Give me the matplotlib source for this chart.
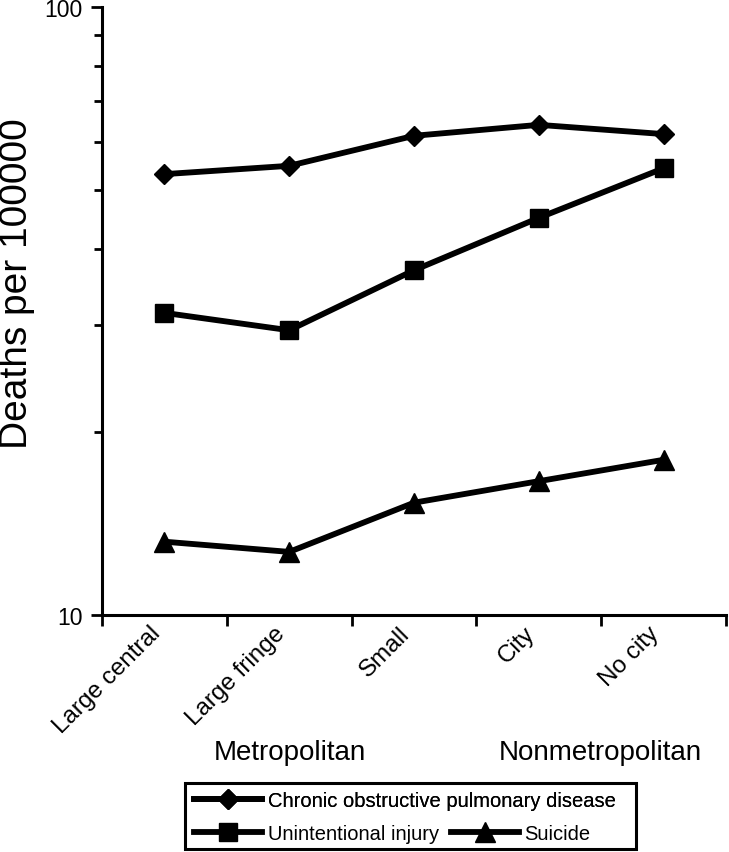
import matplotlib
matplotlib.use('Agg')
import matplotlib.pyplot as plt
from matplotlib.ticker import FixedLocator, NullFormatter, FixedFormatter
from matplotlib.patches import Rectangle

categories = ["Large central", "Large fringe", "Small", "City", "No city"]
copd = [53.1, 54.8, 61.4, 64.0, 61.8]
injury = [31.4, 29.4, 36.9, 45.0, 54.3]
suicide = [13.2, 12.7, 15.3, 16.6, 18.0]
series_names = ["Chronic obstructive pulmonary disease", "Unintentional injury", "Suicide"]
group_labels = ["Metropolitan", "Nonmetropolitan"]
ytick_vals = [10, 100]
ytick_labels = ["10", "100"]
y_label = "Deaths per 100000"

plt.rcParams['font.family'] = ['Liberation Sans', 'DejaVu Sans']

W, H = 729, 853
fig = plt.figure(figsize=(W / 100, H / 100), dpi=100)
ax = fig.add_axes([102 / W, 1 - 616 / H, 624 / W, 608 / H])

x = list(range(len(categories)))
style = dict(color='black', lw=4.2, clip_on=False, solid_joinstyle='miter')
h1, = ax.plot(x, copd, marker='D', ms=10, label=series_names[0], **style)
h2, = ax.plot(x, injury, marker='s', ms=12.5, label=series_names[1], **style)
h3, = ax.plot(x, suicide, marker='^', ms=14.5, label=series_names[2], **style)

ax.set_yscale('log')
ax.set_ylim(10, 100)
ax.set_xlim(-0.5, len(categories) - 0.5)
ax.yaxis.set_major_locator(FixedLocator(ytick_vals))
ax.yaxis.set_major_formatter(FixedFormatter(ytick_labels))
ax.yaxis.set_minor_locator(FixedLocator(list(range(20, 100, 10))))
ax.yaxis.set_minor_formatter(NullFormatter())

ax.set_xticks([i - 0.5 for i in range(len(categories) + 1)])
ax.set_xticklabels([])
ax.set_xticks(x, minor=True)
ax.set_xticklabels(categories, minor=True, rotation=45, ha='right', fontsize=17.5)
ax.tick_params(axis='x', which='minor', length=0, pad=5)
ax.tick_params(axis='both', which='major', length=8, width=2, direction='out')
ax.tick_params(axis='y', which='major', labelsize=16.5, pad=6)
ax.tick_params(axis='y', which='minor', length=6, width=2, direction='out')

for s in ['top', 'right']:
    ax.spines[s].set_visible(False)
for s in ['left', 'bottom']:
    ax.spines[s].set_linewidth(2.2)

fig.text(-1 / W, 1 - 284 / H, y_label, rotation=90, ha='left', va='center', fontsize=28)

fig.text(290 / W, 1 - 753 / H, group_labels[0], ha='center', va='center', fontsize=20)
fig.text(600 / W, 1 - 753 / H, group_labels[1], ha='center', va='center', fontsize=20)

common = dict(frameon=False, handlelength=3.4, handletextpad=0.25, borderpad=0,
              borderaxespad=0, fontsize=14.5, numpoints=1, loc='center left')
leg1 = fig.legend(handles=[h1], bbox_to_anchor=(194 / W, 1 - 802 / H), **common)
leg2 = fig.legend(handles=[h2, h3], ncol=2, columnspacing=0.6,
                  bbox_to_anchor=(194 / W, 1 - 835 / H), **common)
fig.add_artist(leg1)
fig.add_artist(Rectangle((185 / W, 1 - 850 / H), (636 - 185) / W, (850 - 784) / H,
                         transform=fig.transFigure, fill=False, lw=2.2, edgecolor='black'))

fig.savefig('out.png', dpi=100)
